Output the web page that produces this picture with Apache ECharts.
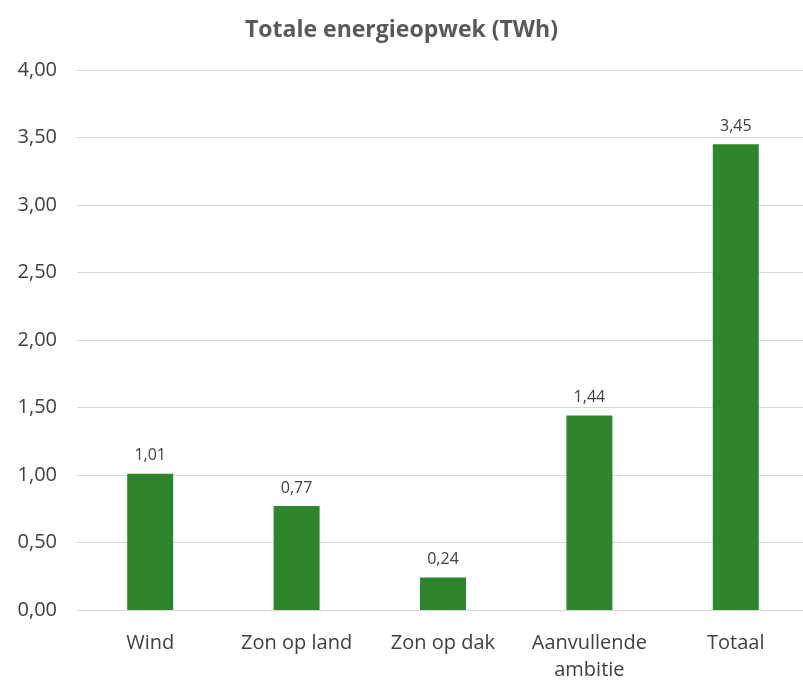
<!DOCTYPE html>
<html>
<head>
<meta charset="utf-8">
<script src="https://cdn.jsdelivr.net/npm/echarts@6/dist/echarts.min.js"></script>
<style>
  html, body { margin: 0; padding: 0; background: #fff; overflow: hidden; }
  #chart { width: 803px; height: 680px; }
</style>
</head>
<body>
<div id="chart"></div>
<script>
const categories = ['Wind', 'Zon op land', 'Zon op dak', 'Aanvullende\nambitie', 'Totaal']
const values = [1.01, 0.77, 0.24, 1.44, 3.45]
const yTicks = [0, 0.5, 1, 1.5, 2, 2.5, 3, 3.5, 4]

const fmt = v => Number(v).toFixed(2).replace('.', ',')
const font = '"Open Sans", "Liberation Sans", sans-serif'

const chart = echarts.init(document.getElementById('chart'))
chart.setOption({
  animation: false,
  title: {
    text: 'Totale energieopwek (TWh)',
    left: 'center',
    top: 14,
    textStyle: {
      fontFamily: font,
      fontSize: 23,
      fontWeight: 'bold',
      color: '#595959'
    }
  },
  grid: {
    left: 77,
    top: 70,
    width: 732,
    bottom: 70,
    outerBoundsMode: 'none'
  },
  xAxis: {
    type: 'category',
    data: categories,
    axisLine: { show: false },
    axisTick: { show: false },
    axisLabel: {
      margin: 20,
      interval: 0,
      fontFamily: font,
      fontSize: 20,
      lineHeight: 27,
      color: '#404040'
    }
  },
  yAxis: {
    type: 'value',
    min: yTicks[0],
    max: yTicks[yTicks.length - 1],
    interval: yTicks[1] - yTicks[0],
    axisLine: { show: false },
    axisTick: { show: false },
    splitLine: { lineStyle: { color: '#d9d9d9', width: 1 } },
    axisLabel: {
      margin: 20,
      fontFamily: font,
      fontSize: 20,
      color: '#404040',
      formatter: fmt
    }
  },
  series: [
    {
      type: 'bar',
      data: values,
      barWidth: 46,
      itemStyle: { color: '#2f852b' },
      label: {
        show: true,
        position: 'top',
        distance: 10,
        fontFamily: font,
        fontSize: 16,
        color: '#404040',
        formatter: p => fmt(p.value)
      }
    }
  ]
})
</script>
</body>
</html>
